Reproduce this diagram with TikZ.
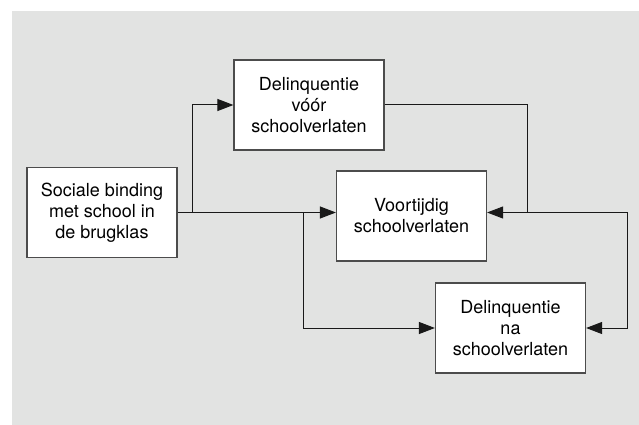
\documentclass[tikz,border=0pt]{standalone}
\usepackage{fontspec}
\setmainfont{TeX Gyre Heros}
\usetikzlibrary{positioning,arrows.meta}
\definecolor{bggray}{RGB}{226,227,226}

\begin{document}
\begin{tikzpicture}[x=1pt,y=-1pt,on grid,
   factor/.style={draw=black!70,line width=1.2pt,fill=white,minimum width=150pt,
      minimum height=90pt,inner sep=0pt,align=center,font=\fontsize{18}{21}\selectfont},
   link/.style={-{Triangle[length=16pt,width=12pt]},line width=1pt,black!90}]
   \useasboundingbox (0,0) rectangle (639,425);
   \fill[bggray] (12,11) rectangle (639,425);
   % boxes
   \node[factor] (soc) at (102,212.5) {Sociale binding\\met school in\\de brugklas};
   \node[factor] (voor) [above right=107.5pt and 207pt of soc] {Delinquentie\\vóór\\schoolverlaten};
   \node[factor] (vsv) [below right=3.5pt and 309.5pt of soc] {Voortijdig\\schoolverlaten};
   \node[factor] (na) [below right=112pt and 99pt of vsv] {Delinquentie\\na\\schoolverlaten};
   % junctions
   \coordinate[right=90pt of soc] (s1);
   \coordinate[right=201pt of soc] (s2);
   \coordinate[right=425pt of soc] (r1);
   \coordinate[right=525pt of soc] (r2);
   % arrows
   \draw[link] (soc.east) -- (vsv.west |- soc.east);
   \draw[link] (s1) |- (voor.west);
   \draw[link] (s2) |- (na.west);
   \draw[link] (voor.east) -| (r1) -- (r1 -| vsv.east);
   \draw[link] (r1) -- (r2) |- (na.east);
\end{tikzpicture}
\end{document}
